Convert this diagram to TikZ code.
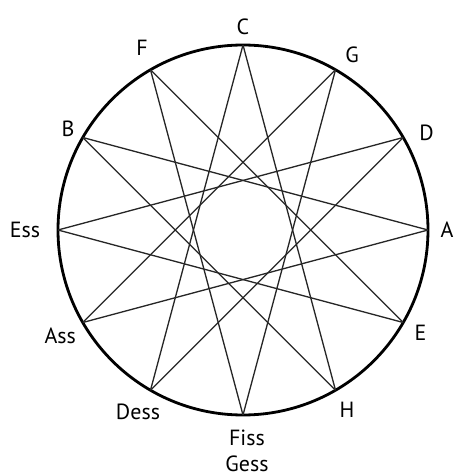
\documentclass[tikz,border=0pt]{standalone}
\usepackage{fontspec}
\setmainfont{PT Sans}
\usetikzlibrary{calc}

\begin{document}
\begin{tikzpicture}[font=\fontsize{12.5}{15}\selectfont,
    rim/.style={line width=1.6pt},
    chord/.style={line width=0.75pt,black!85}]
  \useasboundingbox (-4.86,-4.92) rectangle (4.26,4.6);
  \coordinate (o) at (0,0);
  % twelve points on the circle, C on top, going clockwise
  \foreach \k in {0,...,11}
    \coordinate (p\k) at ($(o)+({90-30*\k}:3.7)$);
  \draw[rim] (o) circle (3.7);
  % the star: each point joined to the one five steps on
  \foreach \k in {0,...,11}{
    \pgfmathtruncatemacro{\j}{mod(\k+5,12)}
    \draw[chord] (p\k) -- (p\j);
  }
  % note names
  \foreach \name/\ang/\r in {C/90/4.06, G/58/4.12, D/28/4.16, A/0/4.08,
      E/-30/4.1, H/-60/4.16, Dess/240/4.2, Ass/210/4.22, Ess/180/4.36,
      B/150/4.04, F/119/4.16}
    \node (l\name) at ($(o)+(\ang:\r)$) {\name};
  \node[align=center] (lFiss) at (0.08,-4.42) {Fiss\\Gess};
\end{tikzpicture}
\end{document}
